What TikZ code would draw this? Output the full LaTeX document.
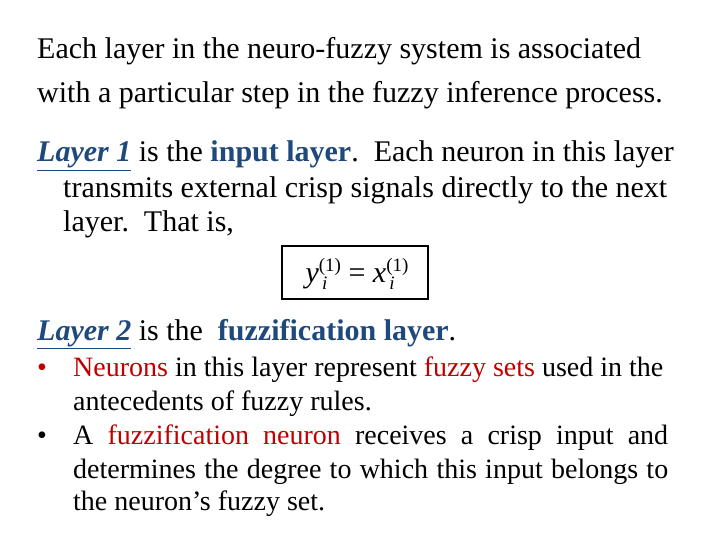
\documentclass[tikz,border=0pt]{standalone}
\usepackage{fontspec}
\setmainfont{Liberation Serif}
\definecolor{hblue}{HTML}{1F497D}
\definecolor{hred}{HTML}{C00000}
\tikzset{ln/.style={anchor=base west,inner sep=0pt,font=\fontsize{30}{36}\selectfont},
 sm/.style={anchor=base west,inner sep=0pt,font=\fontsize{28}{33}\selectfont}}
\newcommand{\lyr}[1]{\textcolor{hblue}{$\underline{\mbox{\bfseries\itshape Layer #1}}$}}
\newcommand{\ymath}[1]{\textit{#1}\rlap{\raisebox{-7pt}{\fontsize{19}{19}\selectfont\itshape\,i}}\raisebox{11pt}{\fontsize{19}{19}\selectfont(1)}}
\begin{document}
\begin{tikzpicture}[x=1pt,y=-1pt]
\useasboundingbox (0,0) rectangle (720,540);
\node[ln] (l1) at (37,59) {Each layer in the neuro-fuzzy system is associated};
\node[ln] (l2) at (37,103) {with a particular step in the fuzzy inference process.};
\node[ln] (l3) at (37,162) {\lyr{1} is the \textcolor{hblue}{\bfseries input layer}.\ \ Each neuron in this layer};
\node[ln] (l4) at (63,197) {transmits external crisp signals directly to the next};
\node[ln] (l5) at (63,232) {layer.\ \ That is,};
\draw[line width=1.5pt] (282,246) rectangle (428,299);
\node[inner sep=0pt,anchor=base,font=\fontsize{30}{36}\selectfont] (f) at (357,282) {\ymath{y} = \ymath{x}};
\node[ln] (l6) at (37,340) {\lyr{2} is the \ \textcolor{hblue}{\bfseries fuzzification layer}.};
\node[sm,text=hred] (b1) at (37,376) {\textbullet};
\node[sm] (t1) at (73,376) {\textcolor{hred}{Neurons} in this layer represent \textcolor{hred}{fuzzy sets} used in the};
\node[sm] (t2) at (73,410) {antecedents of fuzzy rules.};
\node[sm] (b2) at (37,444) {\textbullet};
\node[sm] (t3) at (73,444) {\hbox to 595pt{A\hfill\textcolor{hred}{fuzzification}\hfill\textcolor{hred}{neuron}\hfill receives\hfill a\hfill crisp\hfill input\hfill and}};
\node[sm] (t4) at (73,478) {\hbox to 595pt{determines\hfill the\hfill degree\hfill to\hfill which\hfill this\hfill input\hfill belongs\hfill to}};
\node[sm] (t5) at (73,510) {the neuron’s fuzzy set.};
\end{tikzpicture}
\end{document}
